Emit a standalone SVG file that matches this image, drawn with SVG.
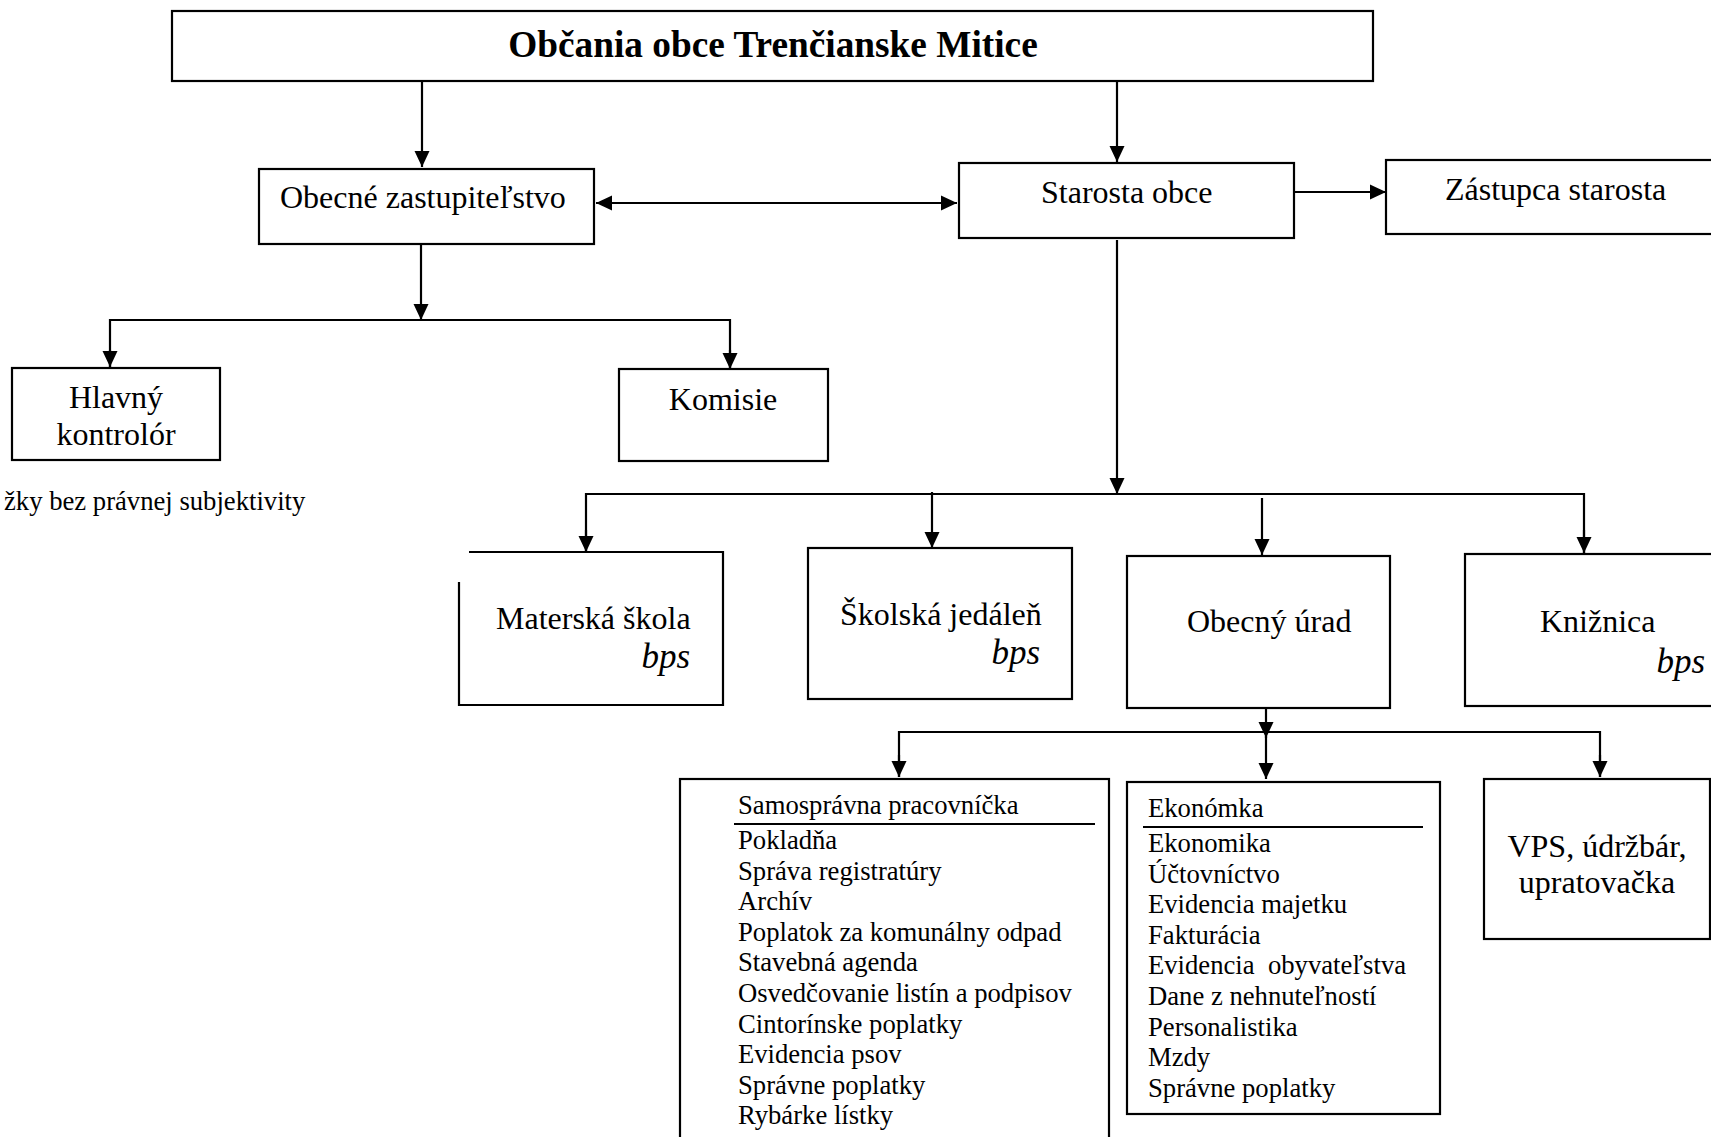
<svg xmlns="http://www.w3.org/2000/svg" width="1711" height="1137" viewBox="0 0 1711 1137">
<style>
.box{fill:#fff;stroke:#000;stroke-width:2.2}
.ln{fill:none;stroke:#000;stroke-width:2.2}
text{font-family:"Liberation Serif","Times New Roman",serif;fill:#000}
.t{font-size:32px}
.s{font-size:26.67px}
.b{font-size:35px;font-style:italic}
.ti{font-size:37.3px;font-weight:bold}
</style>
<defs>
<marker id="ah" markerUnits="userSpaceOnUse" markerWidth="18" markerHeight="18" viewBox="0 0 18 18" refX="16" refY="9" orient="auto-start-reverse">
<path d="M0,1.5 L16,9 L0,16.5 Z" fill="#000"/>
</marker>
</defs>
<rect width="1711" height="1137" fill="#fff"/>
<g id="connectors">
<line class="ln" x1="422" y1="81" x2="422" y2="167" marker-end="url(#ah)"/>
<line class="ln" x1="1117" y1="81" x2="1117" y2="162" marker-end="url(#ah)"/>
<line class="ln" x1="596" y1="203" x2="957" y2="203" marker-start="url(#ah)" marker-end="url(#ah)"/>
<line class="ln" x1="1294" y1="192" x2="1386" y2="192" marker-end="url(#ah)"/>
<line class="ln" x1="421" y1="244" x2="421" y2="320" marker-end="url(#ah)"/>
<polyline class="ln" points="110,367 110,320 730,320 730,369"/>
<line class="ln" x1="110" y1="350" x2="110" y2="367" marker-end="url(#ah)"/>
<line class="ln" x1="730" y1="350" x2="730" y2="369" marker-end="url(#ah)"/>
<line class="ln" x1="1117" y1="240" x2="1117" y2="494" marker-end="url(#ah)"/>
<polyline class="ln" points="586,552 586,494 1584,494 1584,553"/>
<line class="ln" x1="586" y1="530" x2="586" y2="552" marker-end="url(#ah)"/>
<line class="ln" x1="1584" y1="530" x2="1584" y2="553" marker-end="url(#ah)"/>
<line class="ln" x1="932" y1="492" x2="932" y2="548" marker-end="url(#ah)"/>
<line class="ln" x1="1262" y1="498" x2="1262" y2="555" marker-end="url(#ah)"/>
<line class="ln" x1="1266" y1="705" x2="1266" y2="738" marker-end="url(#ah)"/>
<line class="ln" x1="1266" y1="736" x2="1266" y2="779" marker-end="url(#ah)"/>
<polyline class="ln" points="899,777 899,732 1600,732 1600,777"/>
<line class="ln" x1="899" y1="755" x2="899" y2="777" marker-end="url(#ah)"/>
<line class="ln" x1="1600" y1="755" x2="1600" y2="777" marker-end="url(#ah)"/>
</g>
<g id="obcania">
<rect class="box" x="172" y="11" width="1201" height="70"/>
<text class="ti" x="773" y="57" text-anchor="middle">Občania obce Trenčianske Mitice</text>
</g>
<g id="zastupitelstvo">
<rect class="box" x="259" y="169" width="335" height="75"/>
<text class="t" x="280" y="208">Obecné zastupiteľstvo</text>
</g>
<g id="starosta">
<rect class="box" x="959" y="163" width="335" height="75"/>
<text class="t" x="1041" y="203">Starosta obce</text>
</g>
<g id="zastupca">
<rect class="box" x="1386" y="160" width="340" height="74"/>
<text class="t" x="1445" y="200">Zástupca starosta</text>
</g>
<g id="kontrolor">
<rect class="box" x="12" y="368" width="208" height="92"/>
<text class="t" x="116" y="408" text-anchor="middle">Hlavný</text>
<text class="t" x="116" y="445" text-anchor="middle">kontrolór</text>
</g>
<g id="komisie">
<rect class="box" x="619" y="369" width="209" height="92"/>
<text class="t" x="723" y="410" text-anchor="middle">Komisie</text>
</g>
<g id="poznamka">
<text class="s" x="4" y="510">žky bez právnej subjektivity</text>
</g>
<g id="materska">
<path class="ln" d="M469,552 H723 V705 H459 V582"/>
<text class="t" x="496" y="629">Materská škola</text>
<text class="b" x="690" y="668" text-anchor="end">bps</text>
</g>
<g id="jedalen">
<rect class="box" x="808" y="548" width="264" height="151"/>
<text class="t" x="840" y="625">Školská jedáleň</text>
<text class="b" x="1040" y="664" text-anchor="end">bps</text>
</g>
<g id="urad">
<rect class="box" x="1127" y="556" width="263" height="152"/>
<text class="t" x="1187" y="632">Obecný úrad</text>
</g>
<g id="kniznica">
<rect class="box" x="1465" y="554" width="260" height="152"/>
<text class="t" x="1540" y="632">Knižnica</text>
<text class="b" x="1705" y="673" text-anchor="end">bps</text>
</g>
<g id="samospravna">
<rect class="box" x="680" y="779" width="429" height="370"/>
<text class="s" x="738" y="814">Samosprávna pracovníčka</text>
<line class="ln" x1="734" y1="824" x2="1095" y2="824"/>
<text class="s" x="738" y="849">Pokladňa</text>
<text class="s" x="738" y="880">Správa registratúry</text>
<text class="s" x="738" y="910">Archív</text>
<text class="s" x="738" y="941">Poplatok za komunálny odpad</text>
<text class="s" x="738" y="971">Stavebná agenda</text>
<text class="s" x="738" y="1002">Osvedčovanie listín a podpisov</text>
<text class="s" x="738" y="1033">Cintorínske poplatky</text>
<text class="s" x="738" y="1063">Evidencia psov</text>
<text class="s" x="738" y="1094">Správne poplatky</text>
<text class="s" x="738" y="1124">Rybárke lístky</text>
</g>
<g id="ekonomka">
<rect class="box" x="1127" y="782" width="313" height="332"/>
<text class="s" x="1148" y="817">Ekonómka</text>
<line class="ln" x1="1143" y1="827" x2="1423" y2="827"/>
<text class="s" x="1148" y="852">Ekonomika</text>
<text class="s" x="1148" y="883">Účtovníctvo</text>
<text class="s" x="1148" y="913">Evidencia majetku</text>
<text class="s" x="1148" y="944">Fakturácia</text>
<text class="s" x="1148" y="974" xml:space="preserve">Evidencia  obyvateľstva</text>
<text class="s" x="1148" y="1005">Dane z nehnuteľností</text>
<text class="s" x="1148" y="1036">Personalistika</text>
<text class="s" x="1148" y="1066">Mzdy</text>
<text class="s" x="1148" y="1097">Správne poplatky</text>
</g>
<g id="vps">
<rect class="box" x="1484" y="779" width="226" height="160"/>
<text class="t" x="1597" y="857" text-anchor="middle">VPS, údržbár,</text>
<text class="t" x="1597" y="893" text-anchor="middle">upratovačka</text>
</g>
</svg>
